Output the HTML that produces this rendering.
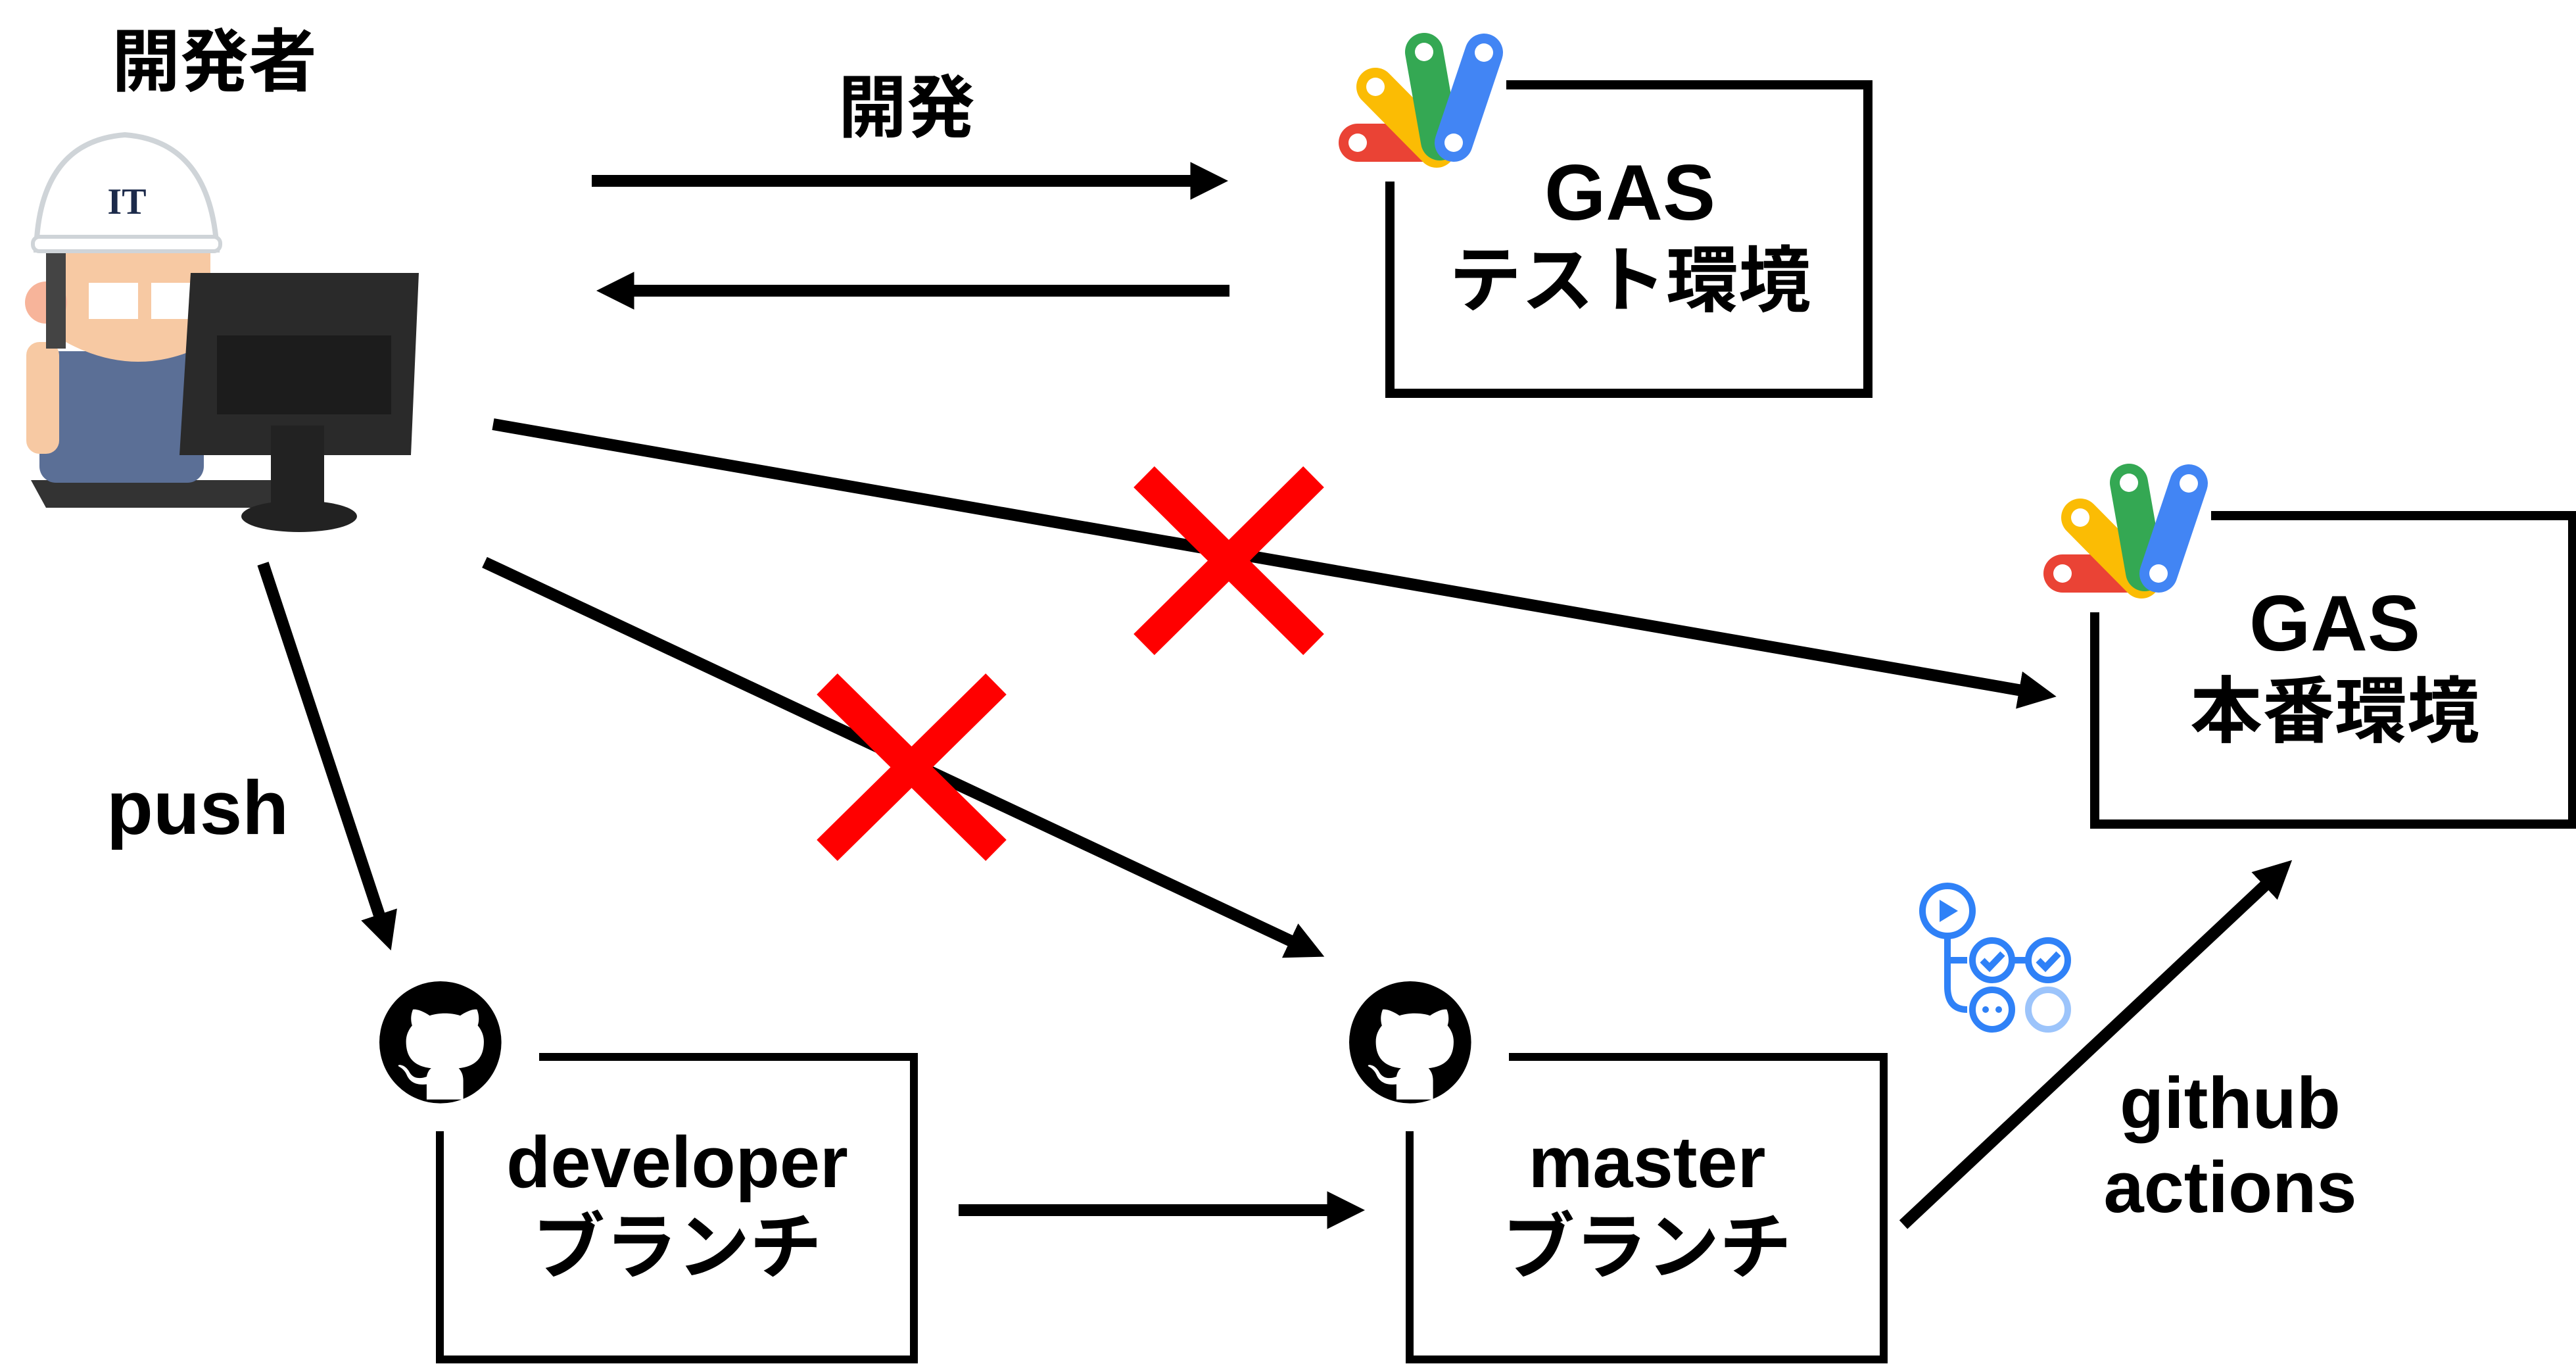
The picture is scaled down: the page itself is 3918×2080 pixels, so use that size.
<!DOCTYPE html>
<html><head><meta charset="utf-8"><style>
html,body{margin:0;padding:0;background:#fff;}
svg{display:block;}
text{font-family:"Liberation Sans","Noto Sans CJK JP",sans-serif;font-weight:bold;fill:#000;}
</style></head><body>
<svg width="3918" height="2080" viewBox="0 0 3918 2080" xmlns="http://www.w3.org/2000/svg">
<defs>
<marker id="ah" markerWidth="4" markerHeight="4" refX="2.2" refY="2" orient="auto" markerUnits="strokeWidth">
<path d="M0,0.4 L3.2,2 L0,3.6 Z" fill="#000"/>
</marker>
<g id="gaslogo">
<line x1="65" y1="187" x2="180" y2="187" stroke="#EA4335" stroke-width="58" stroke-linecap="round"/>
<line x1="92" y1="102" x2="185" y2="196" stroke="#FBBC04" stroke-width="58" stroke-linecap="round"/>
<line x1="166" y1="49" x2="190" y2="185" stroke="#34A853" stroke-width="58" stroke-linecap="round"/>
<line x1="257" y1="50" x2="211" y2="187" stroke="#4285F4" stroke-width="58" stroke-linecap="round"/>
<ellipse cx="65" cy="187" rx="14" ry="14" fill="#fff"/>
<ellipse cx="92" cy="102" rx="14" ry="14" fill="#fff"/>
<ellipse cx="166" cy="49" rx="14" ry="14" fill="#fff"/>
<ellipse cx="257" cy="50" rx="14" ry="14" fill="#fff"/>
<ellipse cx="211" cy="187" rx="14" ry="14" fill="#fff"/>
</g>
<g id="gh">
<circle cx="8" cy="8" r="8" fill="#000"/>
<path fill="#fff" d="M6.2 15.5c0-.9 0-1.6 0-2 -1.6.2-2.3-.5-2.6-1.2-.2-.5-.6-.9-1-1.1-.3-.2 0-.3.3-.2.5.1.9.6 1.1 1 .5.8 1.4.8 2.200.5.1-.5.3-.9.6-1.1-1.8-.2-3.3-1-3.3-3.5 0-.8.3-1.5.8-2.1-.1-.3-.3-1.1.1-2.1 0 0 .7-.2 2.2.8.6-.2 1.3-.3 2-.3.7 0 1.4.1 2 .3 1.5-1 2.2-.8 2.2-.8.4 1 .2 1.8.1 2.1.5.6.8 1.3.8 2.1 0 2.5-1.5 3.3-3.3 3.5.3.3.6.8.6 1.6v2.5z"/>
</g>
</defs>

<text x="170" y="130" font-size="104">開発者</text>
<text x="1379" y="200" font-size="104" text-anchor="middle">開発</text>
<text x="162" y="1268" font-size="116">push</text>

<g>
<path d="M47 730 L426 730 L420 772 L70 772 Z" fill="#333"/>
<rect x="60" y="534" width="250" height="200" rx="25" fill="#5b6f96"/>
<rect x="40" y="520" width="50" height="170" rx="20" fill="#f7c9a3"/>
<path d="M100 380 L320 380 L320 520 Q210 580 100 520 Z" fill="#f7c9a3"/>
<circle cx="70" cy="460" r="32" fill="#f7b49a"/>
<rect x="70" y="380" width="30" height="150" fill="#444"/>
<rect x="135" y="430" width="75" height="55" fill="#fff"/>
<rect x="230" y="430" width="65" height="55" fill="#fff"/>
<path d="M55 380 Q60 215 190 205 Q320 215 330 380 Z" fill="#fff" stroke="#cfd4d8" stroke-width="8"/>
<rect x="50" y="360" width="285" height="22" rx="10" fill="#fff" stroke="#cfd4d8" stroke-width="6"/>
<text x="193" y="325" font-size="56" text-anchor="middle" style="fill:#1c2a4a;font-family:'Liberation Serif',serif">IT</text>
<path d="M290 415 L637 415 L625 692 L273 692 Z" fill="#2a2a2a"/>
<rect x="330" y="510" width="265" height="120" fill="#1c1c1c"/>
<rect x="412" y="647" width="81" height="125" fill="#222"/>
<ellipse cx="455" cy="785" rx="88" ry="24" fill="#222"/>
</g>

<g stroke="#000" stroke-width="18" fill="none">
<line x1="900" y1="275" x2="1850" y2="275" marker-end="url(#ah)"/>
<line x1="1870" y1="442" x2="925" y2="442" marker-end="url(#ah)"/>
<line x1="750" y1="645" x2="3110" y2="1056" marker-end="url(#ah)"/>
<line x1="737" y1="855" x2="1998" y2="1447" marker-end="url(#ah)"/>
<line x1="400" y1="857" x2="589" y2="1428" marker-end="url(#ah)"/>
<line x1="1458" y1="1840" x2="2058" y2="1840" marker-end="url(#ah)"/>
<line x1="2895" y1="1862" x2="3473" y2="1320" marker-end="url(#ah)"/>
</g>

<g stroke="#ff0000" stroke-width="45">
<line x1="1740" y1="725" x2="1998" y2="980"/>
<line x1="1998" y1="725" x2="1740" y2="980"/>
<line x1="1258" y1="1040" x2="1515" y2="1293"/>
<line x1="1515" y1="1040" x2="1258" y2="1293"/>
</g>

<g>
<path d="M2291 129 L2841 129 L2841 598 L2114 598 L2114 276" fill="none" stroke="#000" stroke-width="14"/>
<use href="#gaslogo" transform="translate(2000,30)"/>
<text x="2479" y="334" font-size="120" text-anchor="middle">GAS</text>
<text x="2479" y="465" font-size="110" text-anchor="middle">テスト環境</text>
</g>
<g transform="translate(1072,655)">
<path d="M2291 129 L2841 129 L2841 598 L2114 598 L2114 276" fill="none" stroke="#000" stroke-width="14"/>
<use href="#gaslogo" transform="translate(2000,30)"/>
<text x="2479" y="334" font-size="120" text-anchor="middle">GAS</text>
<text x="2479" y="465" font-size="110" text-anchor="middle">本番環境</text>
</g>

<g>
<path d="M820 1607 L1390 1607 L1390 2067 L669 2067 L669 1720" fill="none" stroke="#000" stroke-width="12"/>
<use href="#gh" transform="translate(577,1492) scale(11.6)"/>
<text x="1030" y="1805" font-size="110" text-anchor="middle">developer</text>
<text x="1030" y="1935" font-size="110" text-anchor="middle">ブランチ</text>
</g>
<g transform="translate(1475,0)">
<path d="M820 1607 L1390 1607 L1390 2067 L669 2067 L669 1720" fill="none" stroke="#000" stroke-width="12"/>
<use href="#gh" transform="translate(577,1492) scale(11.6)"/>
<text x="1030" y="1805" font-size="110" text-anchor="middle">master</text>
<text x="1030" y="1935" font-size="110" text-anchor="middle">ブランチ</text>
</g>

<g stroke="#2f81f7" stroke-width="10" fill="none">
<circle cx="2962" cy="1385" r="38"/>
<path d="M2950 1368 L2978 1385 L2950 1402 Z" fill="#2f81f7" stroke="none"/>
<path d="M2962 1423 L2962 1500 Q2962 1535 2992 1535"/>
<path d="M2962 1460 L2992 1460"/>
<circle cx="3030" cy="1460" r="30"/>
<path d="M3015 1460 L3026 1471 L3046 1450"/>
<line x1="3060" y1="1460" x2="3085" y2="1460"/>
<circle cx="3115" cy="1460" r="30"/>
<path d="M3100 1460 L3111 1471 L3131 1450"/>
<circle cx="3030" cy="1535" r="30"/>
<circle cx="3115" cy="1535" r="30" stroke="#9cc4fb"/>
</g>
<circle cx="3020" cy="1535" r="5" fill="#2f81f7"/>
<circle cx="3040" cy="1535" r="5" fill="#2f81f7"/>

<text x="3392" y="1715" font-size="110" text-anchor="middle">github</text>
<text x="3392" y="1843" font-size="110" text-anchor="middle">actions</text>
</svg>
</body></html>
